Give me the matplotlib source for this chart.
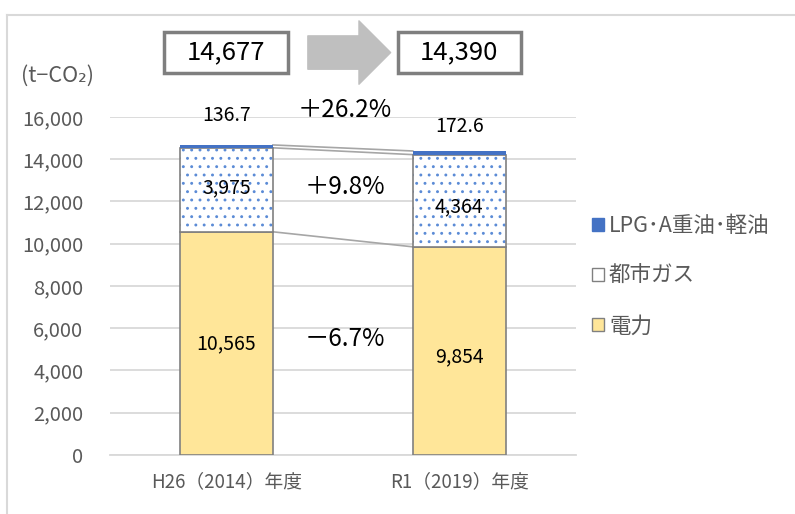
import matplotlib
matplotlib.use("Agg")
import matplotlib.pyplot as plt
from matplotlib.patches import Patch, Rectangle
import numpy as np

plt.rcParams['font.family'] = ['Noto Sans CJK JP', 'DejaVu Sans']
plt.rcParams['hatch.linewidth'] = 0.9

# data
years = ['H26（2014）年度', 'R1（2019）年度']
denryoku = [10565, 9854]
toshi_gas = [3975, 4364]
lpg = [136.7, 172.6]
totals = ['14,677', '14,390']
change_pct = ['－6.7%', '＋9.8%', '＋26.2%']
series_names = ['電力', '都市ガス', 'LPG･A重油･軽油']

yellow = '#FFE699'
blue = '#4472C4'
edge = '#808080'
tick_c = '#595959'

fig = plt.figure(figsize=(7.95, 5.14), dpi=100)
# outer chart frame (left and top line only visible)
fig.add_artist(plt.Line2D([0.009, 0.009], [0, 0.971], color='#D9D9D9', lw=1.5))
fig.add_artist(plt.Line2D([0.009, 1.0], [0.971, 0.971], color='#D9D9D9', lw=1.5))

ax = fig.add_axes([0.138, 0.1148, 0.5865, 0.6576])
x = np.arange(len(years))
w = 0.4

ax.bar(x, denryoku, w, color=yellow, edgecolor=edge, lw=1.2, zorder=3)
# dotted gas segment: blue dots, gray outline
ax.bar(x, toshi_gas, w, bottom=denryoku, color='white', edgecolor='#5B8BD6',
       hatch='..', lw=0, zorder=3)
ax.bar(x, toshi_gas, w, bottom=denryoku, fill=False, edgecolor=edge, lw=1.2, zorder=4)
bot3 = np.array(denryoku) + np.array(toshi_gas)
ax.bar(x, lpg, w, bottom=bot3, color=blue, lw=0, zorder=4)

# series lines
for tops in [np.array(denryoku), bot3, bot3 + np.array(lpg)]:
    ax.plot([x[0] + w / 2, x[1] - w / 2], tops, color='#A6A6A6', lw=1.2, zorder=2)

ax.set_xlim(-0.5, 1.5)
ax.set_ylim(0, 16000)
ax.set_yticks(np.arange(0, 16001, 2000))
ax.set_yticklabels([f'{v:,}' for v in range(0, 16001, 2000)])
ax.set_xticks(x)
ax.set_xticklabels(years)
ax.tick_params(axis='both', length=0, colors=tick_c, labelsize=14.5)
ax.tick_params(axis='y', pad=19)
ax.tick_params(axis='x', pad=12, labelsize=13.5)
ax.grid(axis='y', color='#D9D9D9', lw=1.3, zorder=0)
for s in ['top', 'right', 'left']:
    ax.spines[s].set_visible(False)
ax.spines['bottom'].set_color('#D9D9D9')
ax.spines['bottom'].set_linewidth(1.3)

# data labels
for i in range(len(years)):
    ax.text(x[i], denryoku[i] / 2 + (0 if i == 0 else -300), f'{denryoku[i]:,}',
            ha='center', va='center', fontsize=14, zorder=6)
    ax.text(x[i], denryoku[i] + toshi_gas[i] / 2 + (100 if i == 0 else -300), f'{toshi_gas[i]:,}',
            ha='center', va='center', fontsize=14, zorder=6)
ax.text(x[0], 16050, f'{lpg[0]}', ha='center', va='center', fontsize=14, clip_on=False)
ax.text(x[1], 15530, f'{lpg[1]}', ha='center', va='center', fontsize=14, clip_on=False)

# percent changes
for txt, yy in zip(change_pct, [5490, 12690, 16330]):
    ax.text(0.51, yy, txt, ha='center', va='center', fontsize=17.5, clip_on=False)

# unit
ax.text(-0.88, 17950, '(t−CO₂)', ha='left', va='center', fontsize=15.5,
        color=tick_c, clip_on=False)

# total boxes
for i in range(len(years)):
    ax.add_patch(Rectangle((x[i] - 0.265, 18100), 0.53, 1900, fill=False,
                           ec='#7F7F7F', lw=2.5, clip_on=False, zorder=5))
    ax.text(x[i], 19050, totals[i], ha='center', va='center', fontsize=18.5, clip_on=False)

ax.annotate('', xy=(0.705, 19050), xytext=(0.35, 19050),
            arrowprops=dict(arrowstyle='simple,head_length=0.95,head_width=1.9,tail_width=1.0',
                            color='#BFBFBF', mutation_scale=24, shrinkA=0, shrinkB=0),
            annotation_clip=False)

handles = [Patch(facecolor=blue, edgecolor=blue),
           Patch(facecolor='white', edgecolor=edge),
           Patch(facecolor=yellow, edgecolor=edge)]
fig.legend(handles, series_names[::-1], loc='upper left', bbox_to_anchor=(0.72, 0.62),
           frameon=False, fontsize=15.5, handlelength=0.55, handleheight=0.55,
           handletextpad=0.25, labelspacing=1.32, labelcolor=tick_c)

fig.savefig('out.png', dpi=100)
